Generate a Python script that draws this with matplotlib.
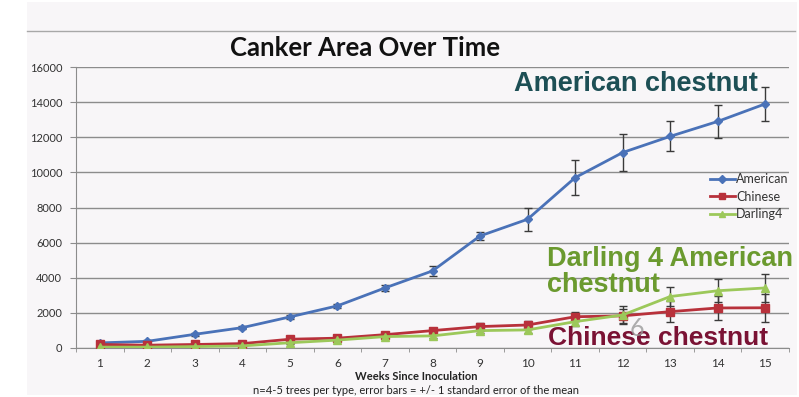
import numpy as np
import matplotlib.pyplot as plt
from matplotlib.patches import Rectangle
from matplotlib.lines import Line2D

weeks = list(range(1, 16))

american = [290, 380, 780, 1160, 1770, 2400, 3420, 4390, 6380, 7330, 9700, 11130, 12050, 12900, 13900]
american_err = [60, 60, 80, 90, 110, 130, 150, 300, 250, 650, 1000, 1050, 850, 950, 950]

chinese = [200, 160, 200, 250, 500, 560, 760, 990, 1220, 1310, 1780, 1830, 2070, 2280, 2290]
chinese_err = [80, 60, 70, 80, 100, 110, 120, 150, 180, 250, 250, 400, 600, 700, 800]

darling = [50, 50, 80, 120, 300, 450, 650, 690, 990, 1030, 1500, 1880, 2930, 3260, 3420]
darling_err = [30, 30, 40, 50, 70, 80, 90, 110, 130, 200, 250, 500, 550, 650, 800]

plt.rcParams['font.family'] = ['Lato', 'DejaVu Sans']

fig = plt.figure(figsize=(7.99, 3.97), dpi=100)
fig.patch.set_facecolor('white')

# slide panel behind the chart
fig.patches.append(Rectangle((27 / 799, 2 / 397), 770 / 799, 393 / 397,
                             transform=fig.transFigure, facecolor='#f8f6f8',
                             edgecolor='none', zorder=-10))
fig.lines.append(Line2D([27 / 799, 795 / 799], [1 - 31 / 397, 1 - 31 / 397],
                        transform=fig.transFigure, color='#a8a8a8', lw=1.0,
                        zorder=-5))

ax = fig.add_axes([76 / 799, 1 - 348 / 397, 713 / 799, 281 / 397])
ax.set_facecolor('none')

series = [
    ('American', american, american_err, '#4a72b8', 'D', 4.5),
    ('Chinese', chinese, chinese_err, '#b8313b', 's', 5.5),
    ('Darling4', darling, darling_err, '#9cc85a', '^', 5.5),
]
handles, labels = [], []
for name, vals, err, col, mk, ms in series:
    eb = ax.errorbar(weeks, vals, yerr=err, color=col, marker=mk, markersize=ms,
                     lw=2.0, ecolor='#3a3a3a', elinewidth=1.0, capsize=3,
                     capthick=1.0, zorder=3)
    handles.append(eb[0])
    labels.append(name)

ax.set_xlim(0.5, 15.5)
ax.set_ylim(0, 16000)
ax.set_yticks(range(0, 16001, 2000))
ax.set_xticks(weeks)
ax.set_xticks(np.arange(0.5, 15.6, 1), minor=True)
ax.grid(axis='y', color='#8c8c8c', lw=1.0)
ax.set_axisbelow(True)

for side in ('top', 'right'):
    ax.spines[side].set_visible(False)
ax.spines['left'].set_color('#8c8c8c')
ax.spines['bottom'].set_color('#8c8c8c')
ax.tick_params(axis='y', labelsize=8, colors='#8c8c8c', labelcolor='#333333',
               length=4, pad=6)
ax.tick_params(axis='x', which='major', length=0, labelsize=8.5,
               labelcolor='#333333', pad=7)
ax.tick_params(axis='x', which='minor', length=3, colors='#8c8c8c')

leg = ax.legend(handles, labels, loc='upper left', bbox_to_anchor=(0.882, 0.64),
                frameon=False, fontsize=9, handlelength=2.0, handletextpad=0.1,
                labelspacing=0.45, borderaxespad=0, markerscale=0.8)
for t in leg.get_texts():
    t.set_color('#333333')

fig.text(365 / 799, 1 - 48 / 397, 'Canker Area Over Time', ha='center',
         va='center', fontsize=18.5, fontweight='bold', color='#111111')
fig.text(416 / 799, 1 - 377 / 397, 'Weeks Since Inoculation', ha='center',
         va='center', fontsize=8, fontweight='bold', color='#222222')
fig.text(416 / 799, 1 - 390 / 397,
         'n=4-5 trees per type, error bars = +/- 1 standard error of the mean',
         ha='center', va='center', fontsize=8, color='#222222')

arial = ['Liberation Sans', 'DejaVu Sans']
fig.text(636 / 799, 1 - 84 / 397, 'American chestnut', ha='center', va='center',
         fontsize=19.5, fontweight='bold', color='#1d4f55', family=arial)
fig.text(547 / 799, 1 - 272 / 397, 'Darling 4 American\nchestnut', ha='left',
         va='center', fontsize=19.5, fontweight='bold', color='#6b9a2f',
         family=arial, linespacing=1.0)
fig.text(548 / 799, 1 - 338 / 397, 'Chinese chestnut', ha='left', va='center',
         fontsize=19, fontweight='bold', color='#7a1234', family=arial)
fig.text(637 / 799, 1 - 329 / 397, '6', ha='center', va='center',
         fontsize=18, color='#9a9a9a', alpha=0.8)

fig.savefig('out.png', dpi=100, facecolor=fig.get_facecolor())
